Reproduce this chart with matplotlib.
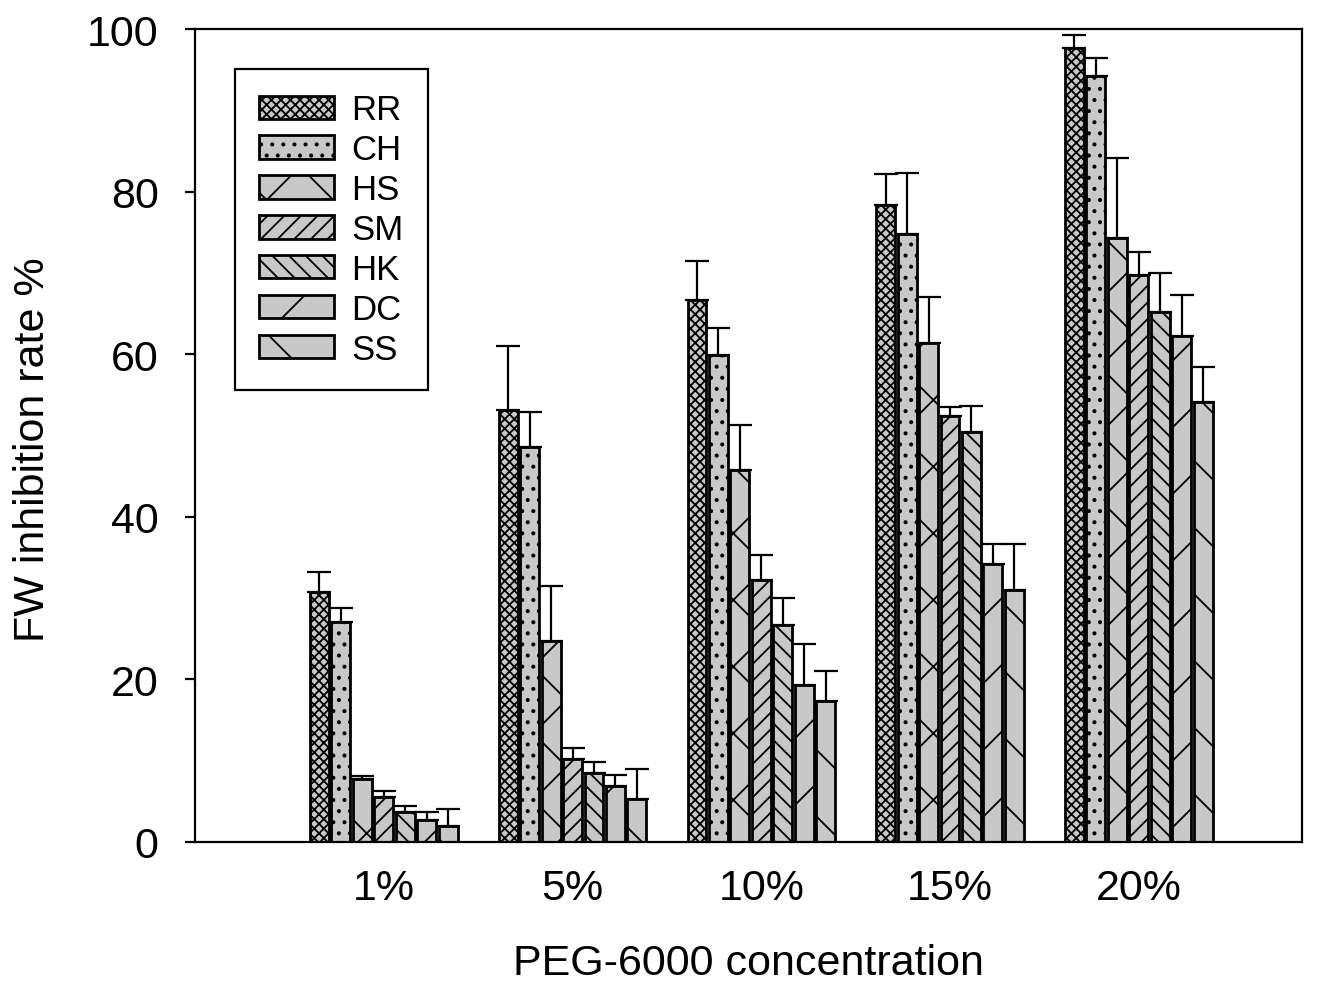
import matplotlib.pyplot as plt
import numpy as np

plt.rcParams['font.family'] = ['Liberation Sans', 'DejaVu Sans']
plt.rcParams['hatch.linewidth'] = 0.65

groups = ['1%', '5%', '10%', '15%', '20%']
cultivars = ['RR', 'CH', 'HS', 'SM', 'HK', 'DC', 'SS']

# mean values, one list per cultivar (across the 5 PEG levels)
RR = [30.7, 53.1, 66.7, 78.3, 97.7]
CH = [27.0, 48.6, 59.9, 74.8, 94.2]
HS = [7.7, 24.7, 45.8, 61.4, 74.3]
SM = [5.5, 10.2, 32.2, 52.4, 69.7]
HK = [3.7, 8.5, 26.7, 50.4, 65.2]
DC = [2.7, 6.9, 19.3, 34.2, 62.2]
SS = [2.0, 5.3, 17.3, 31.0, 54.1]

# upper error bars
RR_err = [2.5, 7.9, 4.8, 3.9, 1.6]
CH_err = [1.8, 4.3, 3.3, 7.5, 2.2]
HS_err = [0.4, 6.8, 5.5, 5.6, 9.8]
SM_err = [0.8, 1.4, 3.1, 1.1, 2.9]
HK_err = [0.7, 1.3, 3.3, 3.2, 4.8]
DC_err = [1.0, 1.4, 5.1, 2.4, 5.1]
SS_err = [2.1, 3.7, 3.7, 5.6, 4.3]

means = [RR, CH, HS, SM, HK, DC, SS]
errs = [RR_err, CH_err, HS_err, SM_err, HK_err, DC_err, SS_err]
hatches = ['xxxxxxx', '...', 'x', '////', '\\\\\\\\', '/', '\\']

fig = plt.figure(figsize=(6.675, 4.935), dpi=200)
ax = fig.add_axes([0.1461, 0.1459, 0.8292, 0.8237])

x = np.arange(1, len(groups) + 1)
step = 0.1136
width = 0.1
for i, name in enumerate(cultivars):
    xs = x + (i - 3) * step
    ax.bar(xs, means[i], width, color='#c8c8c8', edgecolor='black',
           linewidth=1.0, hatch=hatches[i], label=name, zorder=2)
    ax.errorbar(xs, means[i], yerr=[np.zeros(len(groups)), errs[i]],
                fmt='none', ecolor='black', elinewidth=0.8, capsize=4.4,
                capthick=0.8, zorder=3)

ax.set_xlim(0, 5.865)
ax.set_ylim(0, 100)
ax.set_yticks([0, 20, 40, 60, 80, 100])
ax.set_xticks(x)
ax.set_xticklabels(groups)
ax.tick_params(axis='x', length=0, pad=9.5, labelsize=15.5)
ax.tick_params(axis='y', length=3.6, width=0.8, pad=9.5, labelsize=15.5)
for s in ax.spines.values():
    s.set_linewidth(0.8)

ax.set_xlabel('PEG-6000 concentration', fontsize=15.5, labelpad=12.5)
ax.set_ylabel('FW inhibition rate %', fontsize=15.5)
ax.yaxis.set_label_coords(-0.128, 0.484)

leg = ax.legend(loc='upper left', bbox_to_anchor=(40 / 1107, 1 - 40 / 813),
                borderaxespad=0, fontsize=12.5, fancybox=False,
                edgecolor='black', framealpha=1, handlelength=2.15,
                handleheight=0.65, handletextpad=0.5, labelspacing=0.2,
                borderpad=0.7)
leg.get_frame().set_linewidth(0.8)

fig.savefig('out.png', dpi=200)
